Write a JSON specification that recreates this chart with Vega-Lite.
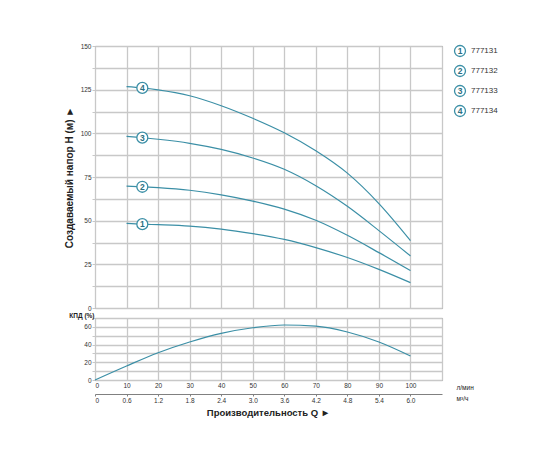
{
  "$schema": "https://vega.github.io/schema/vega-lite/v6.json",
  "padding": {"left": 63, "top": 42, "right": 5, "bottom": 5},
  "background": "white",
  "config": {
    "font": "Liberation Sans",
    "view": {"stroke": "#808080", "strokeWidth": 1},
    "axis": {
      "gridColor": "#c8c8c8",
      "gridWidth": 1.3,
      "gridOpacity": 1,
      "tickColor": "#c8c8c8",
      "labelColor": "#333333",
      "labelFontSize": 6.5,
      "titleColor": "#222222"
    }
  },
  "datasets": {
    "head": [
      {"series": "1", "q": 10, "h": 48.5}, {"series": "1", "q": 15, "h": 48.0}, {"series": "1", "q": 20, "h": 47.7},
      {"series": "1", "q": 30, "h": 46.9}, {"series": "1", "q": 40, "h": 45.2}, {"series": "1", "q": 50, "h": 42.6},
      {"series": "1", "q": 60, "h": 39.3}, {"series": "1", "q": 70, "h": 34.6}, {"series": "1", "q": 80, "h": 28.9},
      {"series": "1", "q": 90, "h": 22.1}, {"series": "1", "q": 100, "h": 14.5},
      {"series": "2", "q": 10, "h": 69.8}, {"series": "2", "q": 15, "h": 69.4}, {"series": "2", "q": 20, "h": 68.9},
      {"series": "2", "q": 30, "h": 67.4}, {"series": "2", "q": 40, "h": 64.8}, {"series": "2", "q": 50, "h": 61.2},
      {"series": "2", "q": 60, "h": 56.6}, {"series": "2", "q": 70, "h": 50.2}, {"series": "2", "q": 80, "h": 41.6},
      {"series": "2", "q": 90, "h": 31.7}, {"series": "2", "q": 100, "h": 21.4},
      {"series": "3", "q": 10, "h": 98.3}, {"series": "3", "q": 15, "h": 97.5}, {"series": "3", "q": 20, "h": 96.6},
      {"series": "3", "q": 30, "h": 94.3}, {"series": "3", "q": 40, "h": 90.8}, {"series": "3", "q": 50, "h": 85.9},
      {"series": "3", "q": 60, "h": 79.4}, {"series": "3", "q": 70, "h": 70.0}, {"series": "3", "q": 80, "h": 58.2},
      {"series": "3", "q": 90, "h": 44.3}, {"series": "3", "q": 100, "h": 29.8},
      {"series": "4", "q": 10, "h": 126.7}, {"series": "4", "q": 15, "h": 126.0}, {"series": "4", "q": 20, "h": 124.9},
      {"series": "4", "q": 30, "h": 121.5}, {"series": "4", "q": 40, "h": 115.8}, {"series": "4", "q": 50, "h": 108.6},
      {"series": "4", "q": 60, "h": 100.3}, {"series": "4", "q": 70, "h": 90.0}, {"series": "4", "q": 80, "h": 77.2},
      {"series": "4", "q": 90, "h": 59.8}, {"series": "4", "q": 100, "h": 38.6}
    ],
    "marks": [
      {"series": "1", "q": 15, "h": 48.0},
      {"series": "2", "q": 15, "h": 69.4},
      {"series": "3", "q": 15, "h": 97.5},
      {"series": "4", "q": 15, "h": 126.0}
    ],
    "legend": [
      {"series": "1", "name": "777131", "lx": 0},
      {"series": "2", "name": "777132", "lx": 0},
      {"series": "3", "name": "777133", "lx": 0},
      {"series": "4", "name": "777134", "lx": 0}
    ],
    "eff": [
      {"q": 0, "m3": 0, "eff": 0}, {"q": 10, "m3": 0.6, "eff": 15.8}, {"q": 20, "m3": 1.2, "eff": 30.8},
      {"q": 30, "m3": 1.8, "eff": 42.9}, {"q": 40, "m3": 2.4, "eff": 52.7}, {"q": 50, "m3": 3.0, "eff": 59.0},
      {"q": 60, "m3": 3.6, "eff": 62.1}, {"q": 70, "m3": 4.2, "eff": 60.9}, {"q": 80, "m3": 4.8, "eff": 54.2},
      {"q": 90, "m3": 5.4, "eff": 42.9}, {"q": 100, "m3": 6.0, "eff": 27.1}
    ]
  },
  "columns": 2,
  "bounds": "flush",
  "spacing": {"row": 10, "column": 18},
  "concat": [
    {
      "width": 347,
      "height": 262,
      "layer": [
        {
          "data": {"name": "head"},
          "mark": {"type": "line", "color": "#3b8fa6", "strokeWidth": 1.2, "interpolate": "monotone"},
          "encoding": {
            "x": {"field": "q", "type": "quantitative", "scale": {"domain": [0, 110], "nice": false},
              "axis": {"values": [0, 10, 20, 30, 40, 50, 60, 70, 80, 90, 100, 110], "tickCount": 100, "labels": false, "ticks": false, "domain": false, "title": null, "grid": true}},
            "y": {"field": "h", "type": "quantitative", "scale": {"domain": [0, 150], "nice": false},
              "axis": {"values": [0, 12.5, 25, 37.5, 50, 62.5, 75, 87.5, 100, 112.5, 125, 137.5, 150], "tickCount": 100,
                "labelExpr": "datum.value % 25 == 0 ? format(datum.value, 'd') : ''",
                "ticks": true, "tickSize": 3, "labelPadding": 1, "domain": false, "grid": true,
                "title": "Создаваемый напор H (м) ►", "titleFontSize": 10, "titleFontWeight": "bold", "titlePadding": 6}},
            "detail": {"field": "series"}
          }
        },
        {
          "data": {"name": "marks"},
          "mark": {"type": "circle", "size": 120, "fill": "white", "stroke": "#3b8fa6", "strokeWidth": 1.3, "opacity": 1},
          "encoding": {
            "x": {"field": "q", "type": "quantitative"},
            "y": {"field": "h", "type": "quantitative"}
          }
        },
        {
          "data": {"name": "marks"},
          "mark": {"type": "text", "fontSize": 8.5, "fontWeight": "bold", "color": "#2b6f82"},
          "encoding": {
            "x": {"field": "q", "type": "quantitative"},
            "y": {"field": "h", "type": "quantitative"},
            "text": {"field": "series"}
          }
        }
      ]
    },
    {
      "width": 40,
      "height": 70,
      "view": {"stroke": null},
      "data": {"name": "legend"},
      "encoding": {
        "x": {"field": "lx", "type": "quantitative", "scale": {"domain": [0, 1]}, "axis": null},
        "y": {"field": "series", "type": "ordinal", "scale": {"type": "point", "padding": 0.25}, "axis": null}
      },
      "layer": [
        {"mark": {"type": "circle", "size": 120, "fill": "white", "stroke": "#3b8fa6", "strokeWidth": 1.3, "opacity": 1}},
        {"mark": {"type": "text", "fontSize": 8.5, "fontWeight": "bold", "color": "#2b6f82"}, "encoding": {"text": {"field": "series"}}},
        {"mark": {"type": "text", "fontSize": 8, "align": "left", "dx": 11, "color": "#333333"}, "encoding": {"text": {"field": "name"}}}
      ]
    },
    {
      "width": 347,
      "height": 62,
      "data": {"name": "eff"},
      "title": {"text": "Производительность Q ►", "orient": "bottom", "frame": "group", "anchor": "middle", "fontSize": 9.5, "fontWeight": "bold", "color": "#222222", "offset": 4},
      "resolve": {"scale": {"x": "independent"}, "axis": {"x": "independent"}},
      "layer": [
        {
          "mark": {"type": "line", "color": "#3b8fa6", "strokeWidth": 1.2, "interpolate": "monotone"},
          "encoding": {
            "x": {"field": "q", "type": "quantitative", "scale": {"domain": [0, 110], "nice": false},
              "axis": {"orient": "bottom", "values": [0, 10, 20, 30, 40, 50, 60, 70, 80, 90, 100, 110], "tickCount": 100,
                "labelExpr": "datum.value <= 100 ? format(datum.value, 'd') : ''",
                "ticks": false, "tickSize": 0, "labelPadding": 2, "domain": false, "grid": true,
                "title": "л/мин", "titleX": 361, "titleY": 7, "titleAlign": "left", "titleBaseline": "middle", "titleAngle": 0,
                "titleFontSize": 6.5, "titleFontWeight": "normal"}},
            "y": {"field": "eff", "type": "quantitative", "scale": {"domain": [0, 70], "nice": false},
              "axis": {"values": [0, 10, 20, 30, 40, 50, 60, 70], "tickCount": 100,
                "labelExpr": "datum.value % 20 == 0 ? format(datum.value, 'd') : ''",
                "ticks": true, "tickSize": 3, "labelPadding": 1, "domain": false, "grid": true,
                "title": "КПД (%)", "titleAngle": 0, "titleX": -1, "titleY": -3, "titleAlign": "right", "titleBaseline": "middle",
                "titleFontSize": 6.5, "titleFontWeight": "bold"}}
          }
        },
        {
          "mark": {"type": "line", "strokeOpacity": 0},
          "encoding": {
            "x": {"field": "m3", "type": "quantitative", "scale": {"domain": [0, 6.6], "nice": false},
              "axis": {"orient": "bottom", "offset": 14, "values": [0, 0.6, 1.2, 1.8, 2.4, 3.0, 3.6, 4.2, 4.8, 5.4, 6.0], "tickCount": 100,
                "labelExpr": "datum.value == 0 ? '0' : format(datum.value, '.1f')",
                "domain": true, "domainColor": "#808080", "ticks": true, "tickSize": 2, "tickColor": "#808080", "labelPadding": 1, "grid": false,
                "title": "м³/ч", "titleX": 361, "titleY": 4, "titleAlign": "left", "titleBaseline": "middle", "titleAngle": 0,
                "titleFontSize": 6.5, "titleFontWeight": "normal"}},
            "y": {"field": "eff", "type": "quantitative"}
          }
        }
      ]
    }
  ]
}
